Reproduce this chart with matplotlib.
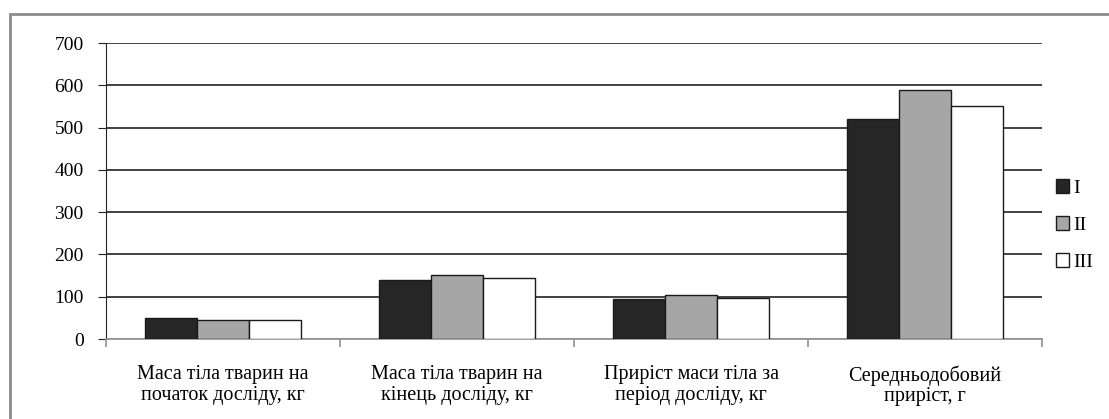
import matplotlib.pyplot as plt
import numpy as np
from matplotlib.patches import Rectangle

# Дані
categories = ['Маса тіла тварин на\nпочаток досліду, кг',
              'Маса тіла тварин на\nкінець досліду, кг',
              'Приріст маси тіла за\nперіод досліду, кг',
              'Середньодобовий\nприріст, г']
groups = ['I', 'II', 'III']
vals_I = [49, 139, 94, 521]
vals_II = [45, 152, 103, 588]
vals_III = [46, 145, 98, 551]
yticks = [0, 100, 200, 300, 400, 500, 600, 700]

plt.rcParams['font.family'] = ['Liberation Serif', 'DejaVu Serif']

W, H = 1109, 419
fig = plt.figure(figsize=(W / 100, H / 100), dpi=100)
fig.patch.set_facecolor('white')

# рамка діаграми (сіра, виходить за праву/нижню межу)
fig.add_artist(Rectangle((10 / W, -0.1), 1.2, 1 - 14 / H + 0.1, transform=fig.transFigure,
                         fill=False, edgecolor='#8c8c8c', lw=2))

ax = fig.add_axes([106 / W, 1 - 339 / H, (1042 - 106) / W, (339 - 43) / H])

x = np.arange(len(categories))
bw = 1 / 4.5
colors = ['#262626', '#a6a6a6', 'white']
series = [vals_I, vals_II, vals_III]
for i, (vals, col, name) in enumerate(zip(series, colors, groups)):
    ax.bar(x + (i - 1) * bw, vals, bw, color=col, edgecolor='#1a1a1a', lw=1, label=name, zorder=3)

ax.set_xlim(-0.5, len(categories) - 0.5)
ax.set_ylim(0, 700)
ax.set_yticks(yticks)
ax.yaxis.grid(True, color='#333333', lw=1.3, zorder=0)
ax.set_axisbelow(True)

# осі
for s in ['top', 'right']:
    ax.spines[s].set_visible(False)
ax.spines['left'].set_color('#222222')
ax.spines['bottom'].set_color('#999999')
ax.spines['bottom'].set_linewidth(1.3)
ax.tick_params(axis='y', length=6, color='#222222', labelsize=14, pad=10)

ax.set_xticks(np.arange(len(categories) + 1) - 0.5)
ax.set_xticklabels([])
ax.tick_params(axis='x', length=6, color='#999999', width=1.3)
ax.set_xticks(x, minor=True)
ax.set_xticklabels(categories, minor=True, fontsize=14.5, linespacing=1.08)
ax.tick_params(axis='x', which='minor', length=0, pad=19)

leg = ax.legend(loc='center left', bbox_to_anchor=(1.0065, 0.385), borderaxespad=0,
                frameon=False, fontsize=14, handlelength=0.7, handleheight=0.7,
                handletextpad=0.2, labelspacing=1.0)

plt.savefig('out.png', dpi=100, facecolor='white')
